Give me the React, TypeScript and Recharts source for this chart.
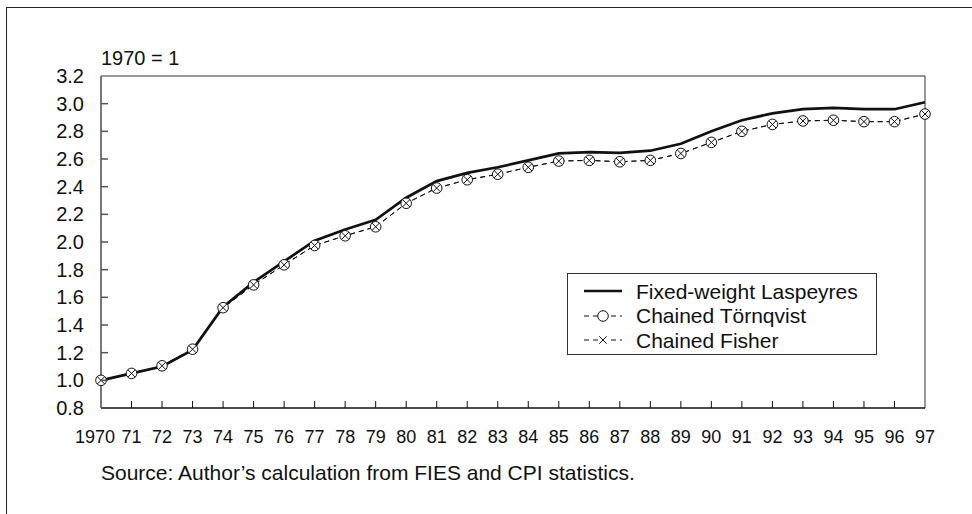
import { Legend, Line, LineChart, ReferenceLine, XAxis, YAxis } from "recharts";

// price indices, 1970 = 1
const YEARS = [
  "1970", "71", "72", "73", "74", "75", "76", "77", "78", "79",
  "80", "81", "82", "83", "84", "85", "86", "87", "88", "89",
  "90", "91", "92", "93", "94", "95", "96", "97"
];

const LASPEYRES = [
  1.0, 1.05, 1.1, 1.22, 1.53, 1.71, 1.86, 2.01, 2.09, 2.16,
  2.32, 2.44, 2.5, 2.54, 2.59, 2.64, 2.65, 2.645, 2.66, 2.71,
  2.8, 2.88, 2.93, 2.96, 2.97, 2.96, 2.96, 3.01
];

const TORNQVIST = [
  1.0, 1.05, 1.105, 1.225, 1.525, 1.69, 1.835, 1.975, 2.045, 2.11,
  2.28, 2.39, 2.45, 2.49, 2.54, 2.585, 2.59, 2.58, 2.59, 2.64,
  2.72, 2.8, 2.85, 2.875, 2.88, 2.87, 2.87, 2.925
];

const FISHER = [
  1.0, 1.05, 1.105, 1.225, 1.525, 1.69, 1.835, 1.975, 2.045, 2.11,
  2.28, 2.39, 2.45, 2.49, 2.54, 2.585, 2.59, 2.58, 2.59, 2.64,
  2.72, 2.8, 2.85, 2.875, 2.88, 2.87, 2.87, 2.925
];

const Y_TICKS = [0.8, 1.0, 1.2, 1.4, 1.6, 1.8, 2.0, 2.2, 2.4, 2.6, 2.8, 3.0, 3.2];

const SERIES_ORDER = ["laspeyres", "tornqvist", "fisher"];

const FONT = '"Liberation Sans", Arial, sans-serif';
const INK = "#111";
const Y_GAP = 17;
const X_GAP = 22;
const TICK_LEN = 7;

const chartData = YEARS.map((year, i) => ({
  year,
  laspeyres: LASPEYRES[i],
  tornqvist: TORNQVIST[i],
  fisher: FISHER[i]
}));

function YTick(props: any) {
  const { x, y, payload } = props;
  const value = payload.value as number;
  const axisX = x + Y_GAP;
  const inner = value > Y_TICKS[0] && value < Y_TICKS[Y_TICKS.length - 1];
  return (
    <g>
      {inner && (
        <line x1={axisX} x2={axisX + TICK_LEN} y1={y} y2={y} stroke="#555" strokeWidth={1.5} />
      )}
      <text x={x} y={y} dy="0.355em" textAnchor="end" fontSize={20} fontFamily={FONT} fill={INK}>
        {value.toFixed(1)}
      </text>
    </g>
  );
}

function XTick(props: any) {
  const { x, y, payload, index } = props;
  const axisY = y - X_GAP;
  const inner = index > 0 && index < YEARS.length - 1;
  return (
    <g>
      {inner && <line x1={x} x2={x} y1={axisY} y2={axisY - TICK_LEN} stroke={INK} strokeWidth={1} />}
      <text
        x={index === 0 ? x - 6 : x}
        y={y}
        dy="0.71em"
        textAnchor="middle"
        fontSize={18}
        fontFamily={FONT}
        fill={INK}
      >
        {payload.value}
      </text>
    </g>
  );
}

function CircleDot(props: any) {
  const { cx, cy, index } = props;
  if (cx == null || cy == null) {
    return <g key={index} />;
  }
  return <circle key={index} cx={cx} cy={cy} r={5.3} fill="#fff" stroke={INK} strokeWidth={1} />;
}

function CrossDot(props: any) {
  const { cx, cy, index } = props;
  if (cx == null || cy == null) {
    return <g key={index} />;
  }
  const d = 3.7;
  return (
    <g key={index}>
      <line x1={cx - d} y1={cy - d} x2={cx + d} y2={cy + d} stroke={INK} strokeWidth={1} />
      <line x1={cx - d} y1={cy + d} x2={cx + d} y2={cy - d} stroke={INK} strokeWidth={1} />
    </g>
  );
}

function Sample({ kind }: { kind: string }) {
  if (kind === "laspeyres") {
    return (
      <svg width={38} height={14}>
        <line x1={0} x2={38} y1={7} y2={7} stroke={INK} strokeWidth={2.7} />
      </svg>
    );
  }
  return (
    <svg width={38} height={14}>
      <line x1={0} x2={38} y1={7} y2={7} stroke={INK} strokeWidth={1} strokeDasharray="5 4" />
      {kind === "tornqvist" ? (
        <circle cx={19} cy={7} r={5.3} fill="#fff" stroke={INK} strokeWidth={1} />
      ) : (
        <g>
          <rect x={15} y={3} width={8} height={8} fill="#fff" />
          <line x1={15.3} y1={3.3} x2={22.7} y2={10.7} stroke={INK} strokeWidth={1} />
          <line x1={15.3} y1={10.7} x2={22.7} y2={3.3} stroke={INK} strokeWidth={1} />
        </g>
      )}
    </svg>
  );
}

function LegendBox(props: any) {
  const items = [...(props.payload ?? [])].sort(
    (a: any, b: any) => SERIES_ORDER.indexOf(a.dataKey) - SERIES_ORDER.indexOf(b.dataKey)
  );
  return (
    <div
      style={{
        width: 310,
        height: 82,
        boxSizing: "border-box",
        border: "1px solid #333",
        background: "#fff",
        padding: "5px 0 0 16px",
        fontFamily: FONT,
        fontSize: 21,
        color: INK
      }}
    >
      {items.map((item: any) => (
        <div key={item.dataKey} style={{ display: "flex", alignItems: "center", height: 24.5 }}>
          <Sample kind={item.dataKey} />
          <span style={{ marginLeft: 14, lineHeight: "21px", whiteSpace: "nowrap" }}>{item.value}</span>
        </div>
      ))}
    </div>
  );
}

export default function App() {
  return (
    <div
      style={{
        position: "absolute",
        left: 0,
        top: 0,
        width: 972,
        height: 514,
        overflow: "hidden",
        background: "#fff"
      }}
    >
      <div
        style={{
          position: "absolute",
          left: 6,
          top: 7,
          width: 1100,
          height: 700,
          borderTop: "1.5px solid #222",
          borderLeft: "1.5px solid #222"
        }}
      />
      <LineChart
        width={972}
        height={514}
        data={chartData}
        margin={{ top: 76, right: 47, bottom: 76, left: 0 }}
      >
        <XAxis
          dataKey="year"
          scale="point"
          padding={{ left: 0, right: 0 }}
          interval={0}
          height={30}
          tickSize={0}
          tickMargin={X_GAP}
          tickLine={false}
          tick={<XTick />}
          axisLine={{ stroke: INK, strokeWidth: 1.3 }}
        />
        <YAxis
          type="number"
          domain={[0.8, 3.2]}
          ticks={Y_TICKS}
          interval={0}
          width={101}
          tickSize={0}
          tickMargin={Y_GAP}
          tickLine={false}
          tick={<YTick />}
          axisLine={{ stroke: "#555", strokeWidth: 1.6 }}
        />
        <ReferenceLine y={3.2} stroke="#333" strokeWidth={1} />
        <ReferenceLine x="97" stroke="#333" strokeWidth={1} />
        <Legend
          layout="vertical"
          align="center"
          verticalAlign="middle"
          content={<LegendBox />}
          wrapperStyle={{ left: 567, top: 273, width: 310, height: 82 }}
        />
        <Line
          type="linear"
          dataKey="laspeyres"
          name="Fixed-weight Laspeyres"
          stroke={INK}
          strokeWidth={2.7}
          dot={false}
          activeDot={false}
          isAnimationActive={false}
        />
        <Line
          type="linear"
          dataKey="tornqvist"
          name="Chained Törnqvist"
          stroke={INK}
          strokeWidth={1}
          strokeDasharray="5 4"
          dot={CircleDot}
          activeDot={false}
          isAnimationActive={false}
        />
        <Line
          type="linear"
          dataKey="fisher"
          name="Chained Fisher"
          stroke={INK}
          strokeWidth={1}
          strokeDasharray="5 4"
          dot={CrossDot}
          activeDot={false}
          isAnimationActive={false}
        />
      </LineChart>
      <div
        style={{
          position: "absolute",
          left: 101,
          top: 48,
          fontFamily: FONT,
          fontSize: 20,
          lineHeight: "20px",
          color: INK
        }}
      >
        1970 = 1
      </div>
      <div
        style={{
          position: "absolute",
          left: 101,
          top: 462,
          fontFamily: FONT,
          fontSize: 21,
          lineHeight: "21px",
          color: INK,
          whiteSpace: "nowrap"
        }}
      >
        Source: Author’s calculation from FIES and CPI statistics.
      </div>
    </div>
  );
}
